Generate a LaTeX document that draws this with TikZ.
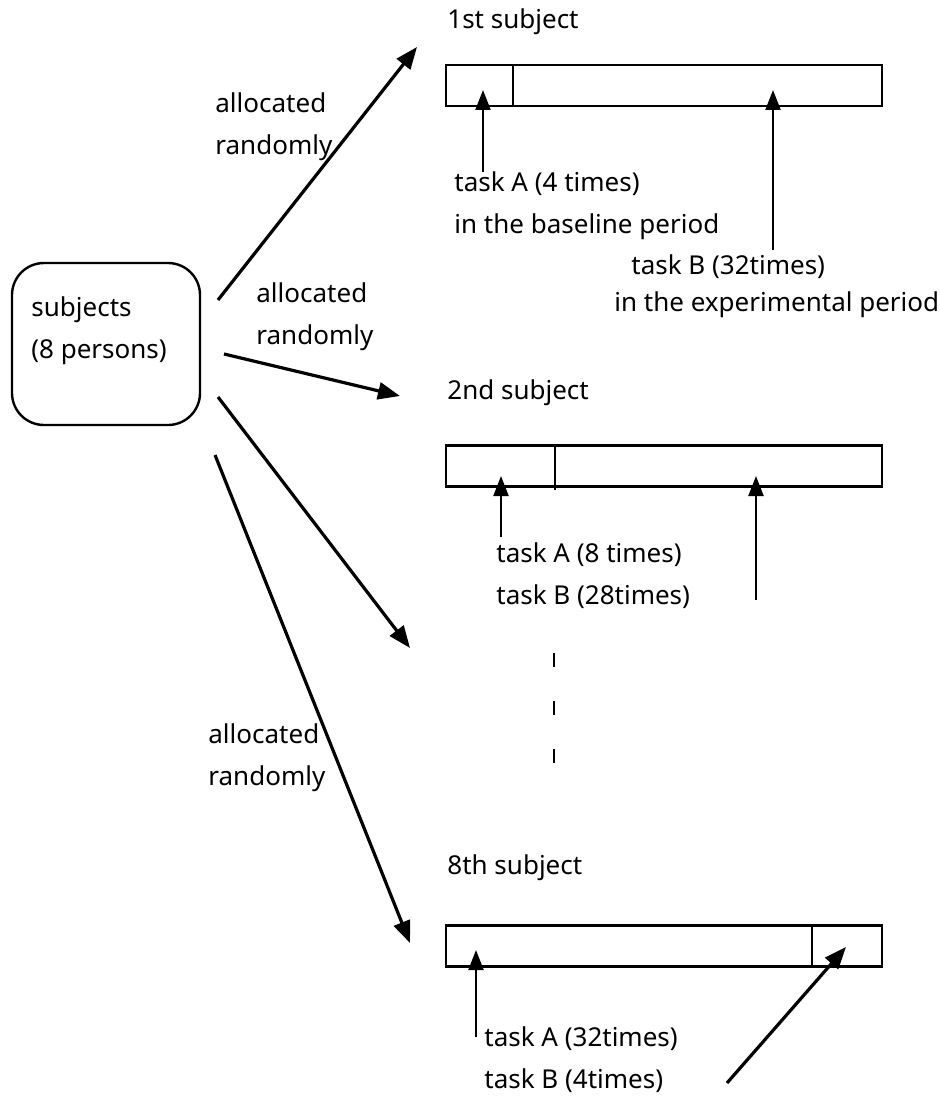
\documentclass[tikz,border=0pt]{standalone}
\usepackage{fontspec}
\setmainfont{Noto Sans}
\usetikzlibrary{arrows.meta}

\begin{document}
\begin{tikzpicture}[x=0.5pt, y=-0.5pt,
    every node/.style = {font=\fontsize{13}{21}\selectfont, inner sep=0pt},
    lbl/.style = {anchor=west, align=left},
    subjbox/.style = {draw, line width=1.2pt, rounded corners=16pt, minimum width=94pt, minimum height=81pt},
    bar/.style = {draw, line width=1.2pt, minimum width=218pt, minimum height=20.5pt},
    alloc/.style = {-{Triangle[length=11pt,width=8.5pt]}, line width=1.6pt},
    pointer/.style = {-{Triangle[length=10pt,width=7.5pt]}, line width=1.1pt}]
    \useasboundingbox (0,0) rectangle (939,1097);

    % subjects
    \node[subjbox] (subj) at (106,344) {};
    \node[lbl] (subjtxt) at (31,331) {subjects\\(8 persons)};

    % 1st subject
    \node[lbl] (s1) at (447,22) {1st subject};
    \node[bar] (bar1) at (664,85.5) {};
    \draw[line width=1.2pt] (513,65) -- (513,106);
    \node[lbl] (s1a) at (454,206) {task A (4 times)\\in the baseline period};
    \node[lbl] (s1b) at (631,267) {task B (32times)};
    \node[lbl] (s1c) at (614,305) {in the experimental period};
    \coordinate (a1from) at (483,172);
    \coordinate (a1to) at (483,90);
    \coordinate (b1from) at (773,250);
    \coordinate (b1to) at (773,90);
    \draw[pointer] (a1from) -- (a1to);
    \draw[pointer] (b1from) -- (b1to);

    % 2nd subject
    \node[lbl] (s2) at (447,393) {2nd subject};
    \node[bar] (bar2) at (664,466) {};
    \draw[line width=1.2pt] (555,446) -- (555,490);
    \node[lbl] (s2a) at (496,576) {task A (8 times)\\task B (28times)};
    \coordinate (a2from) at (501,537);
    \coordinate (a2to) at (501,476);
    \coordinate (b2from) at (756,600);
    \coordinate (b2to) at (756,476);
    \draw[pointer] (a2from) -- (a2to);
    \draw[pointer] (b2from) -- (b2to);

    % dots
    \coordinate (gap1) at (554,653);
    \coordinate (gap2) at (554,764);
    \draw[line width=1.1pt, dash pattern=on 7pt off 17pt] (gap1) -- (gap2);

    % 8th subject
    \node[lbl] (s8) at (447,868) {8th subject};
    \node[bar] (bar8) at (664,946) {};
    \draw[line width=1.2pt] (812,925) -- (812,967);
    \node[lbl] (s8a) at (484,1060) {task A (32times)\\task B (4times)};
    \coordinate (a8from) at (476,1037);
    \coordinate (a8to) at (476,950);
    \coordinate (b8from) at (727,1083);
    \coordinate (b8to) at (846,947);
    \draw[pointer] (a8from) -- (a8to);
    \draw[alloc] (b8from) -- (b8to);

    % allocation
    \coordinate (r1) at (218,300);
    \coordinate (r2) at (224,354);
    \coordinate (r3) at (218,397);
    \coordinate (r4) at (215,455);
    \coordinate (t1) at (417,47);
    \coordinate (t2) at (400,396);
    \coordinate (t3) at (410,648);
    \coordinate (t4) at (410,943);
    \draw[alloc] (r1) -- (t1);
    \draw[alloc] (r2) -- (t2);
    \draw[alloc] (r3) -- (t3);
    \draw[alloc] (r4) -- (t4);
    \node[lbl] (al1) at (215,127) {allocated\\randomly};
    \node[lbl] (al2) at (256,317) {allocated\\randomly};
    \node[lbl] (al3) at (208,758) {allocated\\randomly};
\end{tikzpicture}
\end{document}
